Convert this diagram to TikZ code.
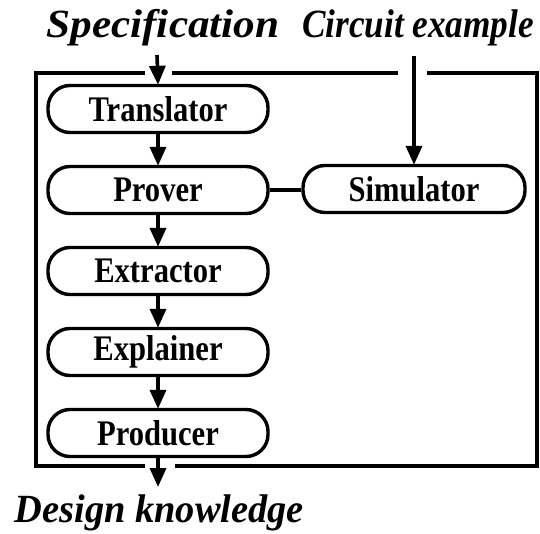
\documentclass[tikz,border=0pt]{standalone}
\usepackage{fontspec}
\setmainfont{Liberation Serif}
\newfontfamily\modfont[FakeStretch=0.85]{Liberation Serif}
\usetikzlibrary{arrows.meta}
\begin{document}
\begin{tikzpicture}[x=1pt,y=-1pt,
  line width=3.6pt,
  module/.style={draw, line width=3.4pt, rounded corners=22pt, minimum width=220pt, minimum height=47pt,
    inner sep=0pt, font=\fontsize{36}{36}\modfont\bfseries},
  io/.style={inner sep=0pt, font=\fontsize{40}{40}\selectfont\bfseries\itshape},
  flow/.style={-{Triangle[length=19pt,width=16pt]}, shorten >=-1pt},
  frame/.style={line cap=butt, line width=3.8pt}]
\useasboundingbox (0,0) rectangle (540,534);

% processing modules
\node[module] (tr)  at (158,109) {Translator};
\node[module] (pr)  at (158,190) {Prover};
\node[module] (ex)  at (158,271) {Extractor};
\node[module] (ep)  at (158,352) {Explainer};
\node[module] (pd)  at (158,433) {Producer};
\node[module, minimum width=222pt] (sim) at (414,189) {Simulator};

% inputs and output
\node[io, anchor=base] (spec) at (163,38) {\scalebox{1.08}[1]{Specification}};
\node[io, anchor=base] (circ) at (418,38) {\scalebox{0.88}[1]{Circuit example}};
\node[io, anchor=base west] (dk) at (13,522) {\scalebox{0.96}[1]{Design knowledge}};

\coordinate (specIn) at (157,55);
\coordinate (circIn) at (414,56);
\coordinate (dkOut)  at (pd.south |- 0,486);

% enclosing frame, broken where the flows pass through
\draw[frame] (145,73) -- (36,73) -- (36,466) -- (145,466);
\draw[frame] (172,73) -- (398,73);
\draw[frame] (427,73) -- (537,73) -- (537,466) -- (175,466);

% flows
\draw[flow] (specIn) -- (tr.north);
\draw[flow] (circIn) -- (sim.north);
\draw[flow] (tr) -- (pr);
\draw[flow] (pr) -- (ex);
\draw[flow] (ex) -- (ep);
\draw[flow] (ep) -- (pd);
\draw[flow] (pd) -- (dkOut);
\draw (pr.east) -- (pr.east -| sim.west);
\end{tikzpicture}
\end{document}
